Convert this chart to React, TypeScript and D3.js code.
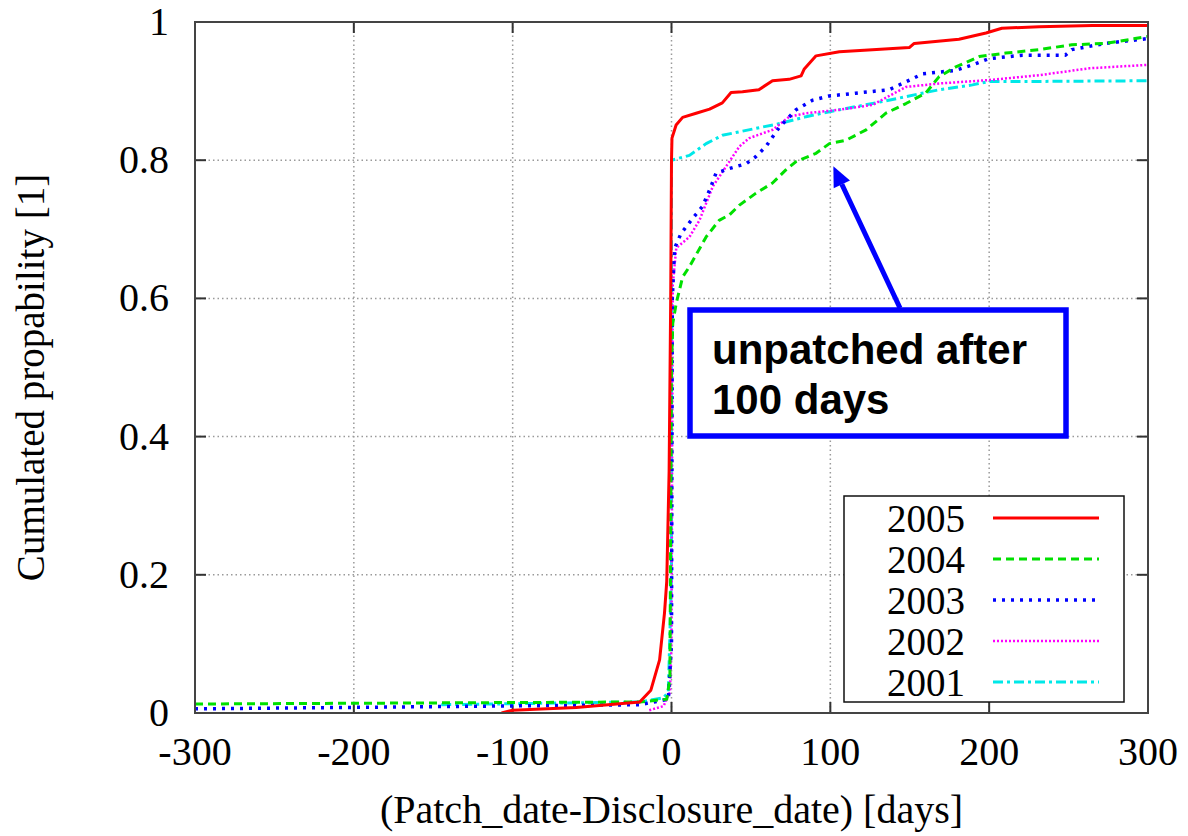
import React, { useEffect, useRef } from 'react';
import * as d3 from 'd3';

// tick values
const xTicks = [-300, -200, -100, 0, 100, 200, 300];
const yTicks = [0, 0.2, 0.4, 0.6, 0.8, 1];
const yTickLabels = ['0', '0.2', '0.4', '0.6', '0.8', '1'];

// curves: [days, cumulated probability]
const cdf2005: [number, number][] = [
  [-107, 0.0], [-100, 0.004], [-60, 0.008], [-20, 0.016], [-13, 0.033], [-7.5, 0.077],
  [-4.4, 0.145], [-3, 0.19], [-1.5, 0.35], [-0.5, 0.6], [0, 0.8], [0.3, 0.832],
  [2.9, 0.851], [7, 0.862], [15.5, 0.868], [24, 0.874], [32, 0.883], [37.5, 0.898],
  [44.7, 0.899], [55, 0.902], [63.6, 0.915], [74, 0.917], [81.6, 0.922], [83.6, 0.932],
  [91, 0.951], [105.7, 0.957], [126.5, 0.96], [149.7, 0.963], [152.8, 0.969],
  [181, 0.975], [198, 0.984], [208, 0.991], [231.5, 0.993], [265, 0.995], [300, 0.995],
];
const cdf2004: [number, number][] = [
  [-300, 0.013], [-20, 0.016], [-3, 0.02], [-1, 0.05], [0, 0.5], [0.8, 0.564],
  [3, 0.593], [7, 0.631], [11.3, 0.646], [21.8, 0.689], [30, 0.713], [36.5, 0.721],
  [42.8, 0.735], [53, 0.752], [63.6, 0.767], [72, 0.786], [78.4, 0.798], [91, 0.81],
  [99.4, 0.824], [110, 0.829], [122.5, 0.844], [135, 0.868], [147.6, 0.882], [160, 0.897],
  [168.5, 0.921], [179, 0.935], [193.7, 0.95], [210.5, 0.955], [231.4, 0.96],
  [252, 0.967], [273, 0.969], [300, 0.979],
];
const cdf2003: [number, number][] = [
  [-300, 0.006], [-20, 0.012], [-2, 0.02], [0, 0.1], [0.5, 0.6], [2, 0.673],
  [6, 0.694], [13.4, 0.716], [19.5, 0.733], [24, 0.757], [28, 0.781], [36.5, 0.788],
  [47, 0.795], [53, 0.805], [59.5, 0.82], [68, 0.848], [78.4, 0.873], [89, 0.887],
  [99.4, 0.893], [116, 0.897], [137, 0.902], [151.8, 0.918], [158, 0.925], [179, 0.93],
  [189.5, 0.938], [200, 0.947], [221, 0.952], [248, 0.952], [252, 0.96], [273, 0.969],
  [300, 0.976],
];
const cdf2002: [number, number][] = [
  [-14, 0.004], [-5, 0.01], [-1, 0.03], [0, 0.1], [0.8, 0.62], [3, 0.673],
  [11.3, 0.689], [17.6, 0.713], [26, 0.762], [34.4, 0.791], [42.8, 0.82], [49, 0.832],
  [63.7, 0.844], [74.2, 0.863], [84.7, 0.868], [105.7, 0.873], [126.6, 0.88],
  [147.6, 0.906], [168.5, 0.911], [200, 0.916], [231.4, 0.923], [263, 0.933], [300, 0.938],
];
const cdf2001: [number, number][] = [
  [-145, 0.012], [-20, 0.016], [-5, 0.022], [-2, 0.03], [0, 0.2], [0, 0.8],
  [11.3, 0.807], [21.8, 0.824], [32, 0.836], [53, 0.846], [68, 0.853], [84.7, 0.863],
  [105.7, 0.873], [126.6, 0.882], [147.6, 0.892], [168.5, 0.902], [189.5, 0.909],
  [200, 0.914], [231, 0.914], [300, 0.915],
];

const seriesNames = ['2005', '2004', '2003', '2002', '2001'];
const seriesData = [cdf2005, cdf2004, cdf2003, cdf2002, cdf2001];

const styles = [
  { color: '#ff0000', width: 3, dash: null },
  { color: '#00e000', width: 3, dash: '8,5' },
  { color: '#0000ff', width: 3.5, dash: '3,6' },
  { color: '#ff00ff', width: 2.5, dash: '2,2' },
  { color: '#00e8e8', width: 3, dash: '10,4,3,4' },
];

const annotationLines = ['unpatched after', '100 days'];

const App = () => {
  const ref = useRef<SVGSVGElement>(null);

  useEffect(() => {
    document.body.style.margin = '0';
    const svg = d3.select(ref.current);
    svg.selectAll('*').remove();

    const left = 195, right = 1148, top = 22, bottom = 713;
    const x = d3.scaleLinear().domain([-300, 300]).range([left, right]);
    const y = d3.scaleLinear().domain([0, 1]).range([bottom, top]);
    const serif = 'Liberation Serif, Times New Roman, serif';

    svg.append('rect').attr('width', 1188).attr('height', 836).attr('fill', 'white');

    // grid
    const grid = svg.append('g').attr('stroke', '#9a9a9a').attr('stroke-width', 1.5).attr('stroke-dasharray', '1.5,3');
    grid.selectAll('.gx').data(xTicks.slice(1, -1)).enter().append('line')
      .attr('x1', d => x(d)).attr('x2', d => x(d)).attr('y1', top).attr('y2', bottom);
    grid.selectAll('.gy').data(yTicks.slice(1, -1)).enter().append('line')
      .attr('y1', d => y(d)).attr('y2', d => y(d)).attr('x1', left).attr('x2', right);

    // tick marks (inward, all four sides)
    const ticks = svg.append('g').attr('stroke', '#333').attr('stroke-width', 2);
    xTicks.forEach(t => {
      ticks.append('line').attr('x1', x(t)).attr('x2', x(t)).attr('y1', bottom).attr('y2', bottom - 11);
      ticks.append('line').attr('x1', x(t)).attr('x2', x(t)).attr('y1', top).attr('y2', top + 11);
    });
    yTicks.forEach(t => {
      ticks.append('line').attr('y1', y(t)).attr('y2', y(t)).attr('x1', left).attr('x2', left + 11);
      ticks.append('line').attr('y1', y(t)).attr('y2', y(t)).attr('x1', right).attr('x2', right - 11);
    });

    // curves
    svg.append('clipPath').attr('id', 'plotclip').append('rect')
      .attr('x', left).attr('y', top - 3).attr('width', right - left).attr('height', bottom - top + 3);
    const line = d3.line<[number, number]>().x(d => x(d[0])).y(d => y(d[1]));
    const curves = svg.append('g').attr('clip-path', 'url(#plotclip)');
    // draw 2001 first so 2005 is on top
    seriesData.map((d, i) => i).reverse().forEach(i => {
      curves.append('path')
        .attr('d', line(seriesData[i]))
        .attr('fill', 'none')
        .attr('stroke', styles[i].color)
        .attr('stroke-width', styles[i].width)
        .attr('stroke-linejoin', 'round')
        .attr('stroke-dasharray', styles[i].dash);
    });

    // frame
    svg.append('rect').attr('x', left).attr('y', top).attr('width', right - left).attr('height', bottom - top)
      .attr('fill', 'none').attr('stroke', '#444').attr('stroke-width', 2);

    // tick labels
    svg.selectAll('.xl').data(xTicks).enter().append('text')
      .attr('x', d => x(d)).attr('y', 765)
      .attr('text-anchor', 'middle')
      .style('font-family', serif).style('font-size', '40px')
      .text(d => d);
    svg.selectAll('.yl').data(yTicks).enter().append('text')
      .attr('x', 169).attr('y', d => y(d) + 13)
      .attr('text-anchor', 'end')
      .style('font-family', serif).style('font-size', '40px')
      .text((d, i) => yTickLabels[i]);

    // axis titles
    svg.append('text')
      .attr('x', (left + right) / 2).attr('y', 823)
      .attr('text-anchor', 'middle')
      .style('font-family', serif).style('font-size', '40px')
      .text('(Patch_date-Disclosure_date) [days]');
    svg.append('text')
      .attr('transform', `translate(44,${(top + bottom) / 2 + 10}) rotate(-90)`)
      .attr('text-anchor', 'middle')
      .style('font-family', serif).style('font-size', '39px')
      .text('Cumulated propability [1]');

    // legend
    const legend = svg.append('g');
    legend.append('rect').attr('x', 844).attr('y', 496).attr('width', 280).attr('height', 206)
      .attr('fill', 'white').attr('stroke', '#111').attr('stroke-width', 1.5);
    seriesNames.forEach((name, i) => {
      const cy = 518 + i * 41;
      legend.append('text')
        .attr('x', 965).attr('y', cy + 14)
        .attr('text-anchor', 'end')
        .style('font-family', serif).style('font-size', '39px')
        .text(name);
      legend.append('line')
        .attr('x1', 993).attr('x2', 1099).attr('y1', cy).attr('y2', cy)
        .attr('stroke', styles[i].color)
        .attr('stroke-width', styles[i].width)
        .attr('stroke-dasharray', styles[i].dash);
    });

    // annotation arrow
    const tipX = x(100) + 3, tipY = y(0.8) + 6;
    const baseX = 900, baseY = 308;
    const ang = Math.atan2(tipY - baseY, tipX - baseX);
    const headLen = 20, headW = 9;
    const bx = tipX - headLen * Math.cos(ang), by = tipY - headLen * Math.sin(ang);
    svg.append('line')
      .attr('x1', baseX).attr('y1', baseY).attr('x2', bx).attr('y2', by)
      .attr('stroke', '#0000ff').attr('stroke-width', 5);
    svg.append('polygon')
      .attr('points', [
        [tipX, tipY],
        [bx + headW * Math.sin(ang), by - headW * Math.cos(ang)],
        [bx - headW * Math.sin(ang), by + headW * Math.cos(ang)],
      ].map(p => p.join(',')).join(' '))
      .attr('fill', '#0000ff');

    // annotation box
    svg.append('rect').attr('x', 690).attr('y', 310).attr('width', 376).attr('height', 126)
      .attr('fill', 'white').attr('stroke', '#0000ff').attr('stroke-width', 5.5);
    annotationLines.forEach((t, i) => {
      svg.append('text')
        .attr('x', 712).attr('y', 364 + i * 50)
        .style('font-family', 'Liberation Sans, Arial, sans-serif')
        .style('font-size', '42px').style('font-weight', 'bold')
        .text(t);
    });
  }, []);

  return <svg ref={ref} width={1188} height={836} style={{ display: 'block' }} />;
};

export default App;
